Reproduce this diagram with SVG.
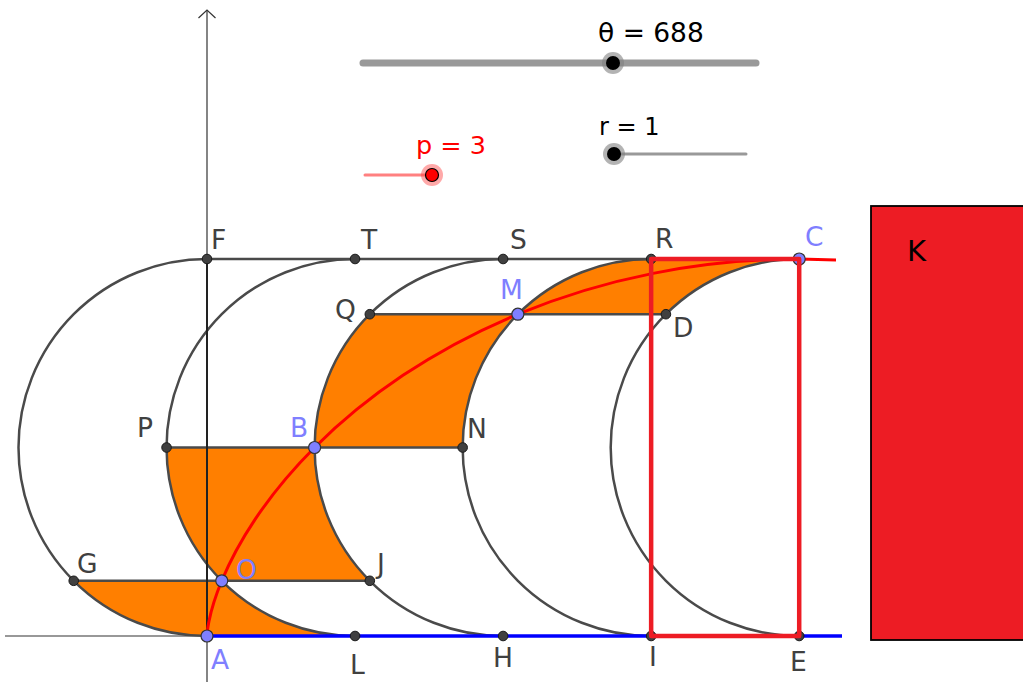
<svg xmlns="http://www.w3.org/2000/svg" width="1023" height="682" viewBox="0 0 1023 682">
<style>
.lbl{font-family:"DejaVu Sans","Liberation Sans",Arial,sans-serif;font-size:26.5px;fill:#404040}
.blbl{font-family:"DejaVu Sans","Liberation Sans",Arial,sans-serif;font-size:26.5px;fill:#7F7FFF}
.sl{font-family:"DejaVu Sans","Liberation Sans",Arial,sans-serif;font-size:26.5px;fill:#000}
.arc{fill:none;stroke:#4a4a4a;stroke-width:2.5}
.seg{stroke:#4a4a4a;stroke-width:2.5;fill:none}
.reg{fill:#FF7F00;stroke:none}
.pt{fill:#404040;stroke:#1a1a1a;stroke-width:1}
.bpt{fill:#7F7FFF;stroke:#333;stroke-width:1.2}
.ax{stroke:#333;stroke-width:1.2;fill:none}
</style>
<rect width="1023" height="682" fill="#fff"/>

<g id="regions">
<path class="reg" d="M73.71,580.79 A188.5,188.5 0 0 0 207,636 L355.05,636 A188.5,188.5 0 0 1 221.76,580.79 Z"/>
<path class="reg" d="M166.55,447.5 A188.5,188.5 0 0 0 221.76,580.79 L369.81,580.79 A188.5,188.5 0 0 1 314.6,447.5 Z"/>
<path class="reg" d="M369.81,314.21 A188.5,188.5 0 0 0 314.6,447.5 L462.65,447.5 A188.5,188.5 0 0 1 517.86,314.21 Z"/>
<path class="reg" d="M517.86,314.21 A188.5,188.5 0 0 1 651.15,259 L799.2,259 A188.5,188.5 0 0 0 665.91,314.21 Z"/>
</g>

<g id="axes">
<line class="ax" x1="5" y1="636" x2="842" y2="636"/>
<line class="ax" x1="207" y1="10" x2="207" y2="682"/>
<polyline class="ax" points="198.5,18 207,10 215.5,18"/>
</g>

<g id="arcs">
<path class="arc" d="M207,259 A188.5,188.5 0 0 0 207,636"/>
<path class="arc" d="M355.05,259 A188.5,188.5 0 0 0 355.05,636"/>
<path class="arc" d="M503.1,259 A188.5,188.5 0 0 0 503.1,636"/>
<path class="arc" d="M651.15,259 A188.5,188.5 0 0 0 651.15,636"/>
<path class="arc" d="M799.2,259 A188.5,188.5 0 0 0 799.2,636"/>
</g>

<g id="connectors">
<line class="seg" x1="207" y1="259" x2="799.2" y2="259"/>
<line class="seg" x1="369.81" y1="314.21" x2="665.91" y2="314.21"/>
<line class="seg" x1="166.55" y1="447.5" x2="462.65" y2="447.5"/>
<line class="seg" x1="73.71" y1="580.79" x2="369.81" y2="580.79"/>
<line x1="207" y1="259" x2="207" y2="636" stroke="#222" stroke-width="2"/>
<line x1="207" y1="636" x2="842" y2="636" stroke="#0000FF" stroke-width="3.5"/>
<path id="cycloid" d="M207,636 C207,636 207.01,631.09 208.89,621.65 C210.77,612.21 214.53,598.24 221.76,580.79 C228.99,563.34 239.69,542.44 254.92,519.64 C270.15,496.84 289.93,472.18 314.6,447.5 C339.28,422.83 368.85,398.16 402.97,375.36 C437.09,352.56 475.73,331.66 517.85,314.21 C559.97,296.76 605.56,282.79 653.03,273.35 C700.5,263.91 749.84,259 799.19,259 L836,259.9" fill="none" stroke="#FF0000" stroke-width="3"/>
</g>

<g id="points">
<g id="F"><circle class="pt" cx="207" cy="259" r="4.8"/><text class="lbl" x="211" y="249">F</text></g>
<g id="T"><circle class="pt" cx="355.05" cy="259" r="4.8"/><text class="lbl" x="361" y="249">T</text></g>
<g id="S"><circle class="pt" cx="503.1" cy="259" r="4.8"/><text class="lbl" x="510" y="249">S</text></g>
<g id="R"><circle class="pt" cx="651.15" cy="259" r="4.8"/><text class="lbl" x="655" y="248">R</text></g>
<g id="Q"><circle class="pt" cx="369.81" cy="314.21" r="4.8"/><text class="lbl" x="335" y="319">Q</text></g>
<g id="D"><circle class="pt" cx="665.91" cy="314.21" r="4.8"/><text class="lbl" x="673" y="337">D</text></g>
<g id="P"><circle class="pt" cx="166.55" cy="447.5" r="4.8"/><text class="lbl" x="137" y="437">P</text></g>
<g id="N"><circle class="pt" cx="462.65" cy="447.5" r="4.8"/><text class="lbl" x="467" y="438">N</text></g>
<g id="G"><circle class="pt" cx="73.71" cy="580.79" r="4.8"/><text class="lbl" x="77" y="573">G</text></g>
<g id="J"><circle class="pt" cx="369.81" cy="580.79" r="4.8"/><text class="lbl" x="377" y="573">J</text></g>
<g id="L"><circle class="pt" cx="355.05" cy="636" r="4.8"/><text class="lbl" x="350" y="674">L</text></g>
<g id="H"><circle class="pt" cx="503.1" cy="636" r="4.8"/><text class="lbl" x="493" y="667">H</text></g>
<g id="I"><circle class="pt" cx="651.15" cy="636" r="4.8"/><text class="lbl" x="649" y="666">I</text></g>
<g id="E"><circle class="pt" cx="799.2" cy="636" r="4.8"/><text class="lbl" x="790" y="671">E</text></g>
<g id="A"><circle class="bpt" cx="207" cy="636" r="6"/><text class="blbl" x="211" y="669">A</text></g>
<g id="O"><circle class="bpt" cx="221.76" cy="580.79" r="6"/><text class="blbl" x="236" y="579">O</text></g>
<g id="B"><circle class="bpt" cx="314.6" cy="447.5" r="6"/><text class="blbl" x="290" y="437">B</text></g>
<g id="M"><circle class="bpt" cx="517.86" cy="314.21" r="6"/><text class="blbl" x="500" y="299">M</text></g>
<g id="C"><circle class="bpt" cx="799.2" cy="259" r="6"/><text class="blbl" x="805" y="246">C</text></g>
</g>

<g id="rectangle">
<rect x="651.15" y="259" width="148.05" height="377" fill="none" stroke="#ED1C24" stroke-width="4.5" stroke-linejoin="round"/>
</g>

<g id="K">
<rect x="871" y="206" width="160" height="434" fill="#ED1C24" stroke="#000" stroke-width="1.8"/>
<text x="907" y="261" font-family="DejaVu Sans,Liberation Sans,Arial,sans-serif" font-size="29" fill="#000">K</text>
</g>

<g id="slider-theta">
<line x1="363" y1="63" x2="756" y2="63" stroke="#999" stroke-width="7" stroke-linecap="round"/>
<circle cx="613" cy="63" r="11" fill="#808080" fill-opacity="0.6"/>
<circle cx="613" cy="63" r="7" fill="#000"/>
<text class="sl" x="598" y="42">θ = 688</text>
</g>

<g id="slider-r">
<line x1="610" y1="154" x2="746" y2="154" stroke="#999" stroke-width="3" stroke-linecap="round"/>
<circle cx="614" cy="154" r="11" fill="#808080" fill-opacity="0.6"/>
<circle cx="614" cy="154" r="7" fill="#000"/>
<text class="sl" x="599" y="135" style="font-size:24px">r = 1</text>
</g>

<g id="slider-p">
<line x1="365" y1="175" x2="430" y2="175" stroke="#FF8080" stroke-width="3" stroke-linecap="round"/>
<circle cx="432" cy="175" r="11" fill="#FF4040" fill-opacity="0.45"/>
<circle cx="432" cy="175" r="6.5" fill="#FF0000" stroke="#000" stroke-width="1.2"/>
<text class="sl" x="416" y="154" style="fill:#FF0000;font-size:25.5px">p = 3</text>
</g>
</svg>
